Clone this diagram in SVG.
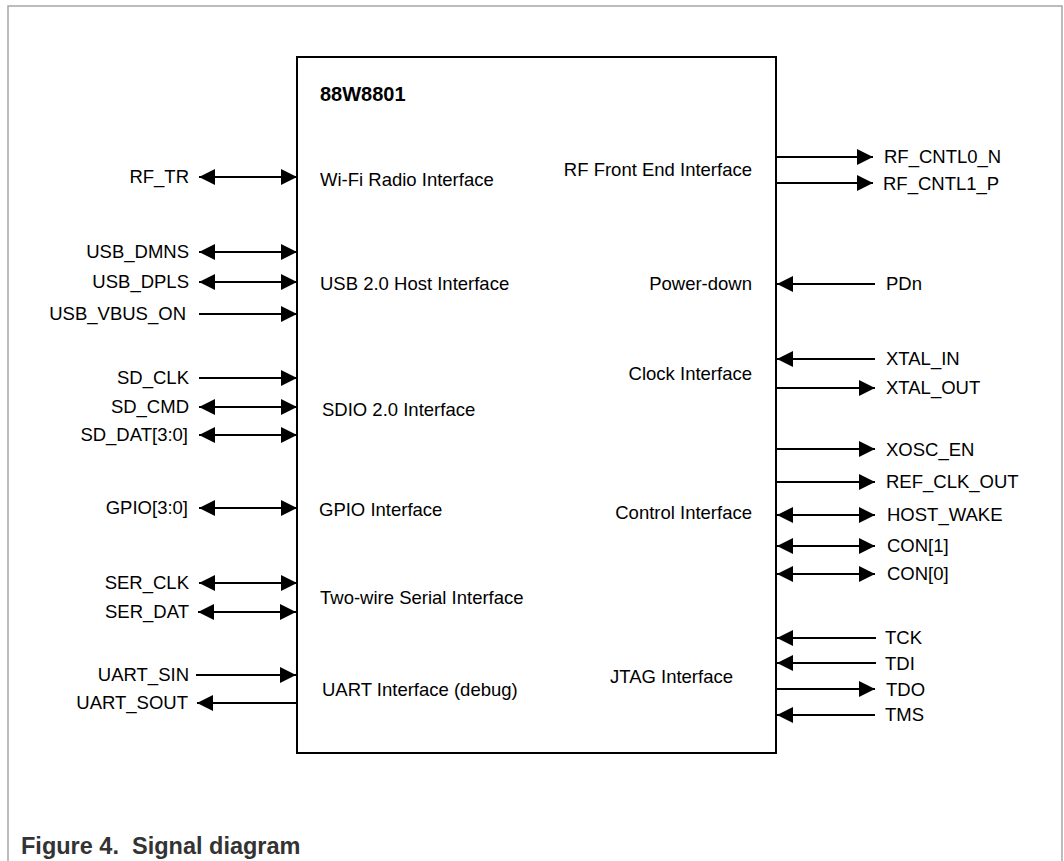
<svg xmlns="http://www.w3.org/2000/svg" width="1064" height="861" viewBox="0 0 1064 861">
<style>
.t{font-family:"Liberation Sans",Arial,sans-serif;font-size:18.5px;fill:#000}
.e{text-anchor:end}
.title{font-family:"Liberation Sans",Arial,sans-serif;font-size:20px;font-weight:bold;fill:#000}
.cap{font-family:"Liberation Sans",Arial,sans-serif;font-size:23.5px;font-weight:bold;fill:#333}
.w{stroke:#000;stroke-width:2;fill:none}
.a{marker-end:url(#ah)}
.b{marker-start:url(#ah);marker-end:url(#ah)}
</style>
<defs>
<marker id="ah" markerUnits="userSpaceOnUse" markerWidth="16" markerHeight="16" refX="16" refY="8" orient="auto-start-reverse" viewBox="0 0 16 16">
<path d="M0,0 L16,8 L0,16 z" fill="#000"/>
</marker>
</defs>
<rect width="1064" height="861" fill="#fff"/>
<path d="M8,870 V6 H1062 V870" fill="none" stroke="#a6a6a6" stroke-width="1.5"/>
<g id="chip">
<rect x="297" y="57" width="479" height="696" fill="#fff" stroke="#000" stroke-width="2"/>
<text class="title" x="320" y="101">88W8801</text>
<text class="t" x="320" y="186">Wi-Fi Radio Interface</text>
<text class="t" x="320" y="290">USB 2.0 Host Interface</text>
<text class="t" x="322" y="416">SDIO 2.0 Interface</text>
<text class="t" x="319" y="516">GPIO Interface</text>
<text class="t" x="320" y="604">Two-wire Serial Interface</text>
<text class="t" x="322" y="696">UART Interface (debug)</text>
<text class="t e" x="752" y="176">RF Front End Interface</text>
<text class="t e" x="752" y="290">Power-down</text>
<text class="t e" x="752" y="380">Clock Interface</text>
<text class="t e" x="752" y="519">Control Interface</text>
<text class="t e" x="733" y="683">JTAG Interface</text>
</g>
<g id="left-labels">
<text class="t e" x="189" y="183">RF_TR</text>
<text class="t e" x="189" y="258">USB_DMNS</text>
<text class="t e" x="189" y="288">USB_DPLS</text>
<text class="t e" x="186" y="320">USB_VBUS_ON</text>
<text class="t e" x="189" y="384">SD_CLK</text>
<text class="t e" x="189" y="413">SD_CMD</text>
<text class="t e" x="188" y="441">SD_DAT[3:0]</text>
<text class="t e" x="188" y="514">GPIO[3:0]</text>
<text class="t e" x="189" y="589">SER_CLK</text>
<text class="t e" x="189" y="618">SER_DAT</text>
<text class="t e" x="189" y="681">UART_SIN</text>
<text class="t e" x="188" y="709">UART_SOUT</text>
</g>
<g id="right-labels">
<text class="t" x="884" y="163">RF_CNTL0_N</text>
<text class="t" x="883" y="190">RF_CNTL1_P</text>
<text class="t" x="886" y="290">PDn</text>
<text class="t" x="886" y="365">XTAL_IN</text>
<text class="t" x="886" y="394">XTAL_OUT</text>
<text class="t" x="886" y="456">XOSC_EN</text>
<text class="t" x="886" y="488">REF_CLK_OUT</text>
<text class="t" x="887" y="521">HOST_WAKE</text>
<text class="t" x="887" y="552">CON[1]</text>
<text class="t" x="887" y="580">CON[0]</text>
<text class="t" x="885" y="644">TCK</text>
<text class="t" x="885" y="670">TDI</text>
<text class="t" x="886" y="696">TDO</text>
<text class="t" x="885" y="721">TMS</text>
</g>
<g id="connectors">
<path class="w b" d="M199,177 H297"/>
<path class="w b" d="M199,252 H297"/>
<path class="w b" d="M199,282 H297"/>
<path class="w a" d="M199,314 H297"/>
<path class="w a" d="M199,378 H297"/>
<path class="w b" d="M199,407 H297"/>
<path class="w b" d="M199,435 H297"/>
<path class="w b" d="M199,508 H297"/>
<path class="w b" d="M199,583 H297"/>
<path class="w b" d="M198,612 H296"/>
<path class="w a" d="M196,675 H296"/>
<path class="w a" d="M297,703 H197"/>
<path class="w a" d="M776,157 H873"/>
<path class="w a" d="M776,183 H873"/>
<path class="w a" d="M875,284 H777"/>
<path class="w a" d="M875,359 H777"/>
<path class="w a" d="M776,388 H875"/>
<path class="w a" d="M776,449 H875"/>
<path class="w a" d="M776,482 H875"/>
<path class="w b" d="M777,515 H875"/>
<path class="w b" d="M777,546 H875"/>
<path class="w b" d="M777,574 H875"/>
<path class="w a" d="M876,638 H777"/>
<path class="w a" d="M876,663 H777"/>
<path class="w a" d="M776,689 H875"/>
<path class="w a" d="M875,715 H777"/>
</g>
<text class="cap" x="21" y="854" xml:space="preserve">Figure 4.  Signal diagram</text>
</svg>
